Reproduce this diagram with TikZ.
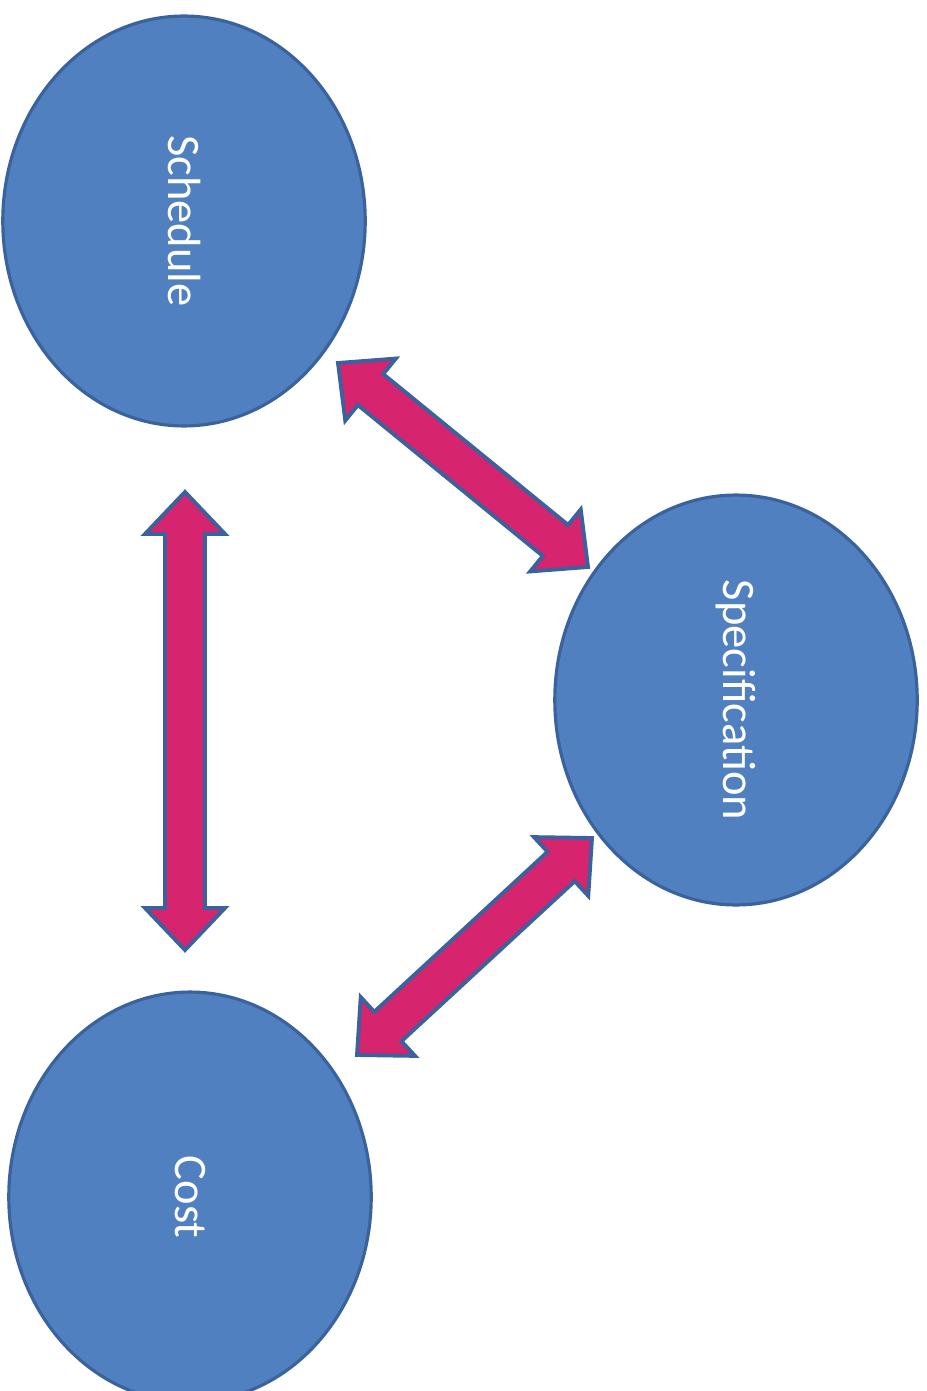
\documentclass[tikz,border=0pt]{standalone}
\usepackage{fontspec}
\setmainfont{Carlito}
\usetikzlibrary{shapes.geometric, calc}
\definecolor{topicblue}{RGB}{80,128,192}
\definecolor{topicline}{RGB}{58,98,156}
\definecolor{linkpink}{RGB}{214,36,110}
\tikzset{
x=0.02cm, y=-0.02cm, % one unit is one pixel of the page
topic/.style={ellipse, draw=topicline, line width=1.8pt, fill=topicblue, text=white, rotate=-90, minimum width=8.2cm, minimum height=7.25cm, font=\fontsize{26.5}{30}\selectfont}, % the three ellipses, text runs downwards
link/.style={draw=topicline, line width=2.2pt, fill=linkpink, line join=miter}, % the fat double arrows
}
% fat double arrow between two coordinates
\newcommand{\biarrow}[2]{
\coordinate (ha) at ($(#1)!0.84cm!(#2)$);
\coordinate (hb) at ($(#2)!0.84cm!(#1)$);
\draw[link] (#1) -- ($(ha)!0.8cm!90:(#2)$) -- ($(ha)!0.4cm!90:(#2)$) -- ($(hb)!0.4cm!-90:(#1)$) -- ($(hb)!0.8cm!-90:(#1)$) -- (#2) -- ($(hb)!0.8cm!90:(#1)$) -- ($(hb)!0.4cm!90:(#1)$) -- ($(ha)!0.4cm!-90:(#2)$) -- ($(ha)!0.8cm!-90:(#2)$) -- cycle;
}

\begin{document}
\begin{tikzpicture}

\useasboundingbox (0,0) rectangle (926,1391);
\clip (0,0) rectangle (926,1391);
\fill[white] (0,0) rectangle (926,1391);

\node[topic] at (184,221) (sched) {Schedule};
\node[topic] at (736,700) (spec) {Specification};
\node[topic] at (190,1197) (cost) {Cost};

% arrow ends, placed from the ellipse centres
\coordinate (sc1) at ($(sched)+(1,271)$);
\coordinate (sc2) at ($(cost)+(-5,-247)$);
\coordinate (ss1) at ($(sched)+(154,142)$);
\coordinate (ss2) at ($(spec)+(-148,-133)$);
\coordinate (pc1) at ($(spec)+(-144,138)$);
\coordinate (pc2) at ($(cost)+(167,-142)$);

\biarrow{sc1}{sc2}
\biarrow{ss1}{ss2}
\biarrow{pc1}{pc2}

\end{tikzpicture}
\end{document}
